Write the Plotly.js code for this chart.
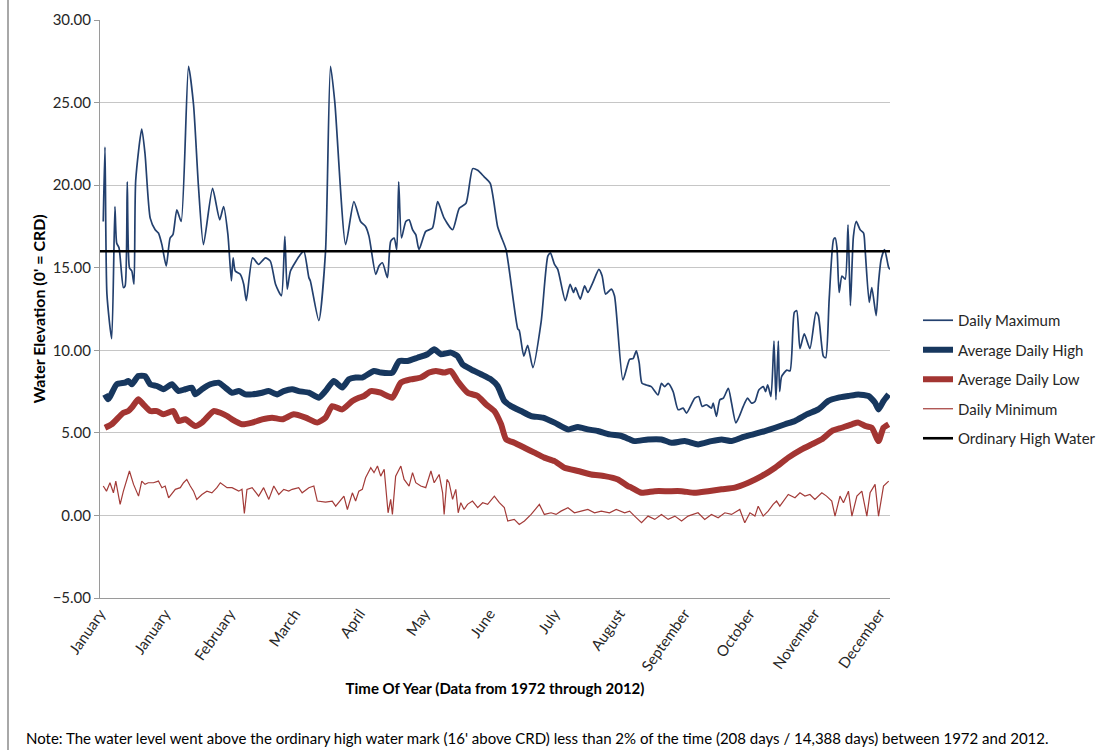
<!DOCTYPE html>
<html>
<head>
<meta charset="utf-8">
<script src="https://cdn.plot.ly/plotly-3.0.1.min.js"></script>
<style>
  html, body { margin: 0; padding: 0; background: #fff; }
  #chart { width: 1108px; height: 750px; }
</style>
</head>
<body>
<div id="chart"></div>
<script>
// ---- Data (day of year, water elevation in feet) ----
const tickDays = [0, 30, 60, 90, 120, 150, 180, 210, 240, 270, 300, 330, 360];
const tickLabels = ["January", "January", "February", "March", "April", "May", "June",
                    "July", "August", "September", "October", "November", "December"];

const maxDays = [1.5, 2.3, 3.2, 5.4, 6.9, 7.7, 8.8, 10.8, 11.6, 12.6, 13.6, 14.7, 15.7, 16.5, 19.3, 20.8, 23.2, 25.5, 27, 28.6,
  30.6, 32.4, 33.7, 35.5, 37.5, 40.9, 43.2, 45.5, 47.8, 52, 55.3, 57.1, 59.1, 60.7, 61.5, 62.5, 64.8, 66.4, 67.6, 70.5,
  73.3, 76.4, 78.7, 81.1, 83.8, 85.4, 86.5, 88, 92.6, 94.2, 96.5, 97.2, 101.1, 104.2, 106.5, 108.5, 113.5, 117.3, 120.4, 122.7,
  124.3, 127.4, 128.9, 130.5, 132.8, 134.3, 135.9, 137.1, 138, 139.3, 141.3, 142.8, 144.4, 145.9, 147.4, 150.5, 153.6, 156, 159, 162.9,
  166, 169.1, 172.2, 174.5, 177.5, 180.3, 183.7, 185.3, 187.6, 193, 193.7, 195.8, 197.6, 200, 203.8, 206.9, 208.1, 210, 211.5, 215,
  217.2, 218.8, 219.7, 221.9, 223.9, 225.4, 227.7, 230.5, 232, 233.6, 236.2, 237.7, 241.6, 244.7, 246.3, 247.8, 249.1, 250.4, 252.4, 254.7,
  257.8, 259.4, 260.9, 262.5, 264.8, 267.1, 269.4, 271, 274.8, 276.6, 278.2, 280.2, 282.5, 283.3, 284.8, 286.4, 288, 290.3, 291.8, 293.8,
  295.7, 297.2, 299.2, 301, 302.6, 304.4, 306.5, 307.5, 308.5, 310, 311.4, 312.3, 313.4, 314, 314.9, 317.3, 318.8, 320.8, 321.9, 323.4,
  325.4, 328, 330.8, 331.9, 334.2, 335.3, 336.9, 338.9, 339.7, 340.5, 341.5, 342.8, 344.3, 345.6, 346.7, 348.1, 349.4, 351.2, 352.8, 353.5,
  355.4, 356.6, 358.6, 359.7, 360.9, 362.5, 364.4, 365];
const maxVals = [17.8, 22.3, 13.4, 10.7, 18.7, 16.5, 16.2, 13.8, 13.9, 20.2, 15.0, 14.8, 14.0, 20.3, 23.4, 21.9, 18.0, 17.3, 17.1, 16.4,
  15.1, 16.8, 17.0, 18.5, 17.8, 27.2, 24.9, 19.9, 16.4, 19.8, 17.9, 18.7, 17.0, 14.2, 15.6, 14.8, 14.6, 14.0, 13.0, 15.6,
  15.2, 15.6, 15.4, 14.0, 13.3, 16.9, 13.7, 14.8, 15.8, 16.0, 14.4, 14.2, 11.8, 16.0, 27.2, 25.0, 16.4, 19.0, 17.8, 17.5,
  16.9, 14.6, 15.1, 15.3, 14.4, 16.6, 16.8, 16.1, 20.2, 16.8, 17.8, 17.9, 17.3, 17.0, 16.1, 17.2, 17.4, 19.0, 18.0, 17.3,
  18.6, 18.9, 21.0, 20.9, 20.5, 20.1, 17.5, 16.9, 16.1, 11.3, 11.2, 9.65, 10.3, 8.95, 11.7, 15.7, 15.9, 15.2, 14.9, 13.0,
  14.0, 13.5, 13.8, 13.1, 13.9, 13.5, 14.1, 14.9, 14.5, 13.4, 13.7, 13.3, 8.2, 9.45, 9.5, 9.96, 9.25, 8.0, 7.9, 7.8,
  7.3, 8.0, 7.8, 8.0, 7.5, 6.4, 6.5, 6.2, 7.1, 7.2, 6.6, 6.7, 6.5, 6.8, 6.0, 7.0, 7.1, 7.7, 6.8, 5.6,
  6.1, 6.6, 7.1, 6.8, 6.9, 7.6, 7.8, 7.5, 7.9, 7.2, 10.56, 7.0, 10.56, 7.5, 8.4, 8.8, 8.75, 12.3, 12.4, 10.1,
  11.0, 10.1, 12.3, 12.1, 9.65, 9.55, 13.1, 16.7, 16.8, 16.2, 13.5, 14.5, 14.3, 17.6, 12.7, 16.9, 17.8, 17.3, 17.1, 16.1,
  12.9, 13.8, 12.1, 14.1, 15.5, 16.1, 15.0, 14.9];

const avgHighDays = [2.3, 3.8, 7.7, 11.6, 13.1, 14.7, 17.7, 20.8, 23.2, 26.3, 29.3, 33.2, 36.3, 39.4, 42.5, 44, 47.1, 51, 54.8, 57.9,
  61, 64.1, 67.2, 70.3, 74.9, 77.9, 81.8, 84.9, 88.8, 91.8, 96.5, 101.1, 104.2, 108, 111.9, 115, 118.1, 121.2, 126.6, 129.7,
  135.1, 138.2, 142.1, 146.7, 151.3, 154.4, 157.5, 162.1, 165.2, 167.5, 171.4, 176, 180.6, 183.7, 186.8, 189.9, 194.5, 199.2, 204.6, 210,
  216.2, 220.8, 225.4, 230, 235.4, 240.9, 244.7, 247, 253.2, 259.4, 264, 270.2, 276.3, 282.5, 287.2, 291.8, 296.4, 301.8, 307.2, 311.9,
  316.5, 321.1, 326.5, 331.9, 336.5, 341.2, 345.8, 350.4, 355.1, 358.1, 359.7, 362, 364.4];
const avgHighVals = [7.33, 7.03, 7.94, 8.04, 8.14, 7.94, 8.44, 8.44, 7.94, 7.84, 7.64, 7.94, 7.53, 7.64, 7.74, 7.33, 7.64, 7.94, 8.04, 7.74,
  7.43, 7.53, 7.33, 7.33, 7.43, 7.53, 7.33, 7.53, 7.64, 7.53, 7.43, 7.13, 7.53, 8.14, 7.74, 8.24, 8.35, 8.35, 8.75, 8.65,
  8.65, 9.35, 9.35, 9.55, 9.76, 10.06, 9.76, 9.86, 9.65, 9.15, 8.85, 8.55, 8.24, 7.84, 6.93, 6.62, 6.32, 6.02, 5.92, 5.62,
  5.21, 5.36, 5.21, 5.11, 4.91, 4.81, 4.61, 4.50, 4.60, 4.60, 4.40, 4.50, 4.30, 4.50, 4.60, 4.50, 4.71, 4.91, 5.11, 5.31,
  5.52, 5.72, 6.12, 6.42, 6.93, 7.13, 7.23, 7.33, 7.23, 6.83, 6.42, 6.93, 7.33];

const avgLowDays = [2.3, 5.4, 10.8, 13.1, 14.7, 17.7, 20, 23.2, 26.3, 29.3, 33.9, 36.3, 39.4, 44, 47.1, 52.5, 55.6, 58.7, 61, 65.6,
  70.3, 74.9, 79.5, 84.2, 89.5, 95, 100.4, 104.2, 107.3, 111.9, 116.6, 119.6, 122, 125.1, 129.7, 135.1, 139, 143.6, 148.2, 152.1,
  155.2, 159, 162.1, 165.2, 169.9, 174.5, 178.3, 182.2, 185.3, 187.6, 191.4, 196.1, 200.7, 205.3, 210, 214.6, 220.8, 227, 233.1, 239.3,
  243.9, 245.6, 250.2, 256.3, 262.5, 268.7, 274.8, 281, 287.2, 293.3, 299.5, 305.7, 311.9, 318, 324.2, 328.8, 333.5, 338.1, 342.7, 347.4,
  350.4, 353.5, 356.6, 359.7, 362, 364.4];
const avgLowVals = [5.31, 5.52, 6.22, 6.32, 6.53, 7.03, 6.73, 6.32, 6.32, 6.12, 6.32, 5.72, 5.82, 5.41, 5.62, 6.32, 6.22, 6.02, 5.82, 5.52,
  5.62, 5.82, 5.92, 5.82, 6.12, 5.92, 5.62, 5.92, 6.62, 6.42, 6.93, 7.13, 7.23, 7.53, 7.43, 7.13, 8.04, 8.24, 8.35, 8.65,
  8.75, 8.65, 8.75, 8.14, 7.43, 7.23, 6.73, 6.32, 5.52, 4.61, 4.40, 4.10, 3.80, 3.50, 3.29, 2.89, 2.69, 2.48, 2.38, 2.18,
  1.78, 1.68, 1.37, 1.47, 1.47, 1.47, 1.37, 1.47, 1.58, 1.68, 1.98, 2.38, 2.89, 3.50, 4.00, 4.30, 4.61, 5.11, 5.31, 5.52,
  5.62, 5.42, 5.31, 4.50, 5.31, 5.52];

const minDays = [1.5, 3, 4.6, 6.2, 7.3, 9.3, 10.8, 12.4, 13.6, 15.5, 17.8, 19.3, 20.8, 22.3, 24.7, 27, 28.6, 30.1, 31.7, 34.8,
  37.1, 38.6, 40.1, 41.7, 43.2, 44.7, 47.1, 49.4, 51.7, 54, 55.6, 58.7, 61, 64.1, 65.6, 66.7, 67.9, 70.3, 73.3, 75.6,
  78, 80.3, 82.6, 84.9, 87.2, 88.8, 91.8, 93.4, 96.5, 98.8, 100.4, 104.2, 107.3, 108.9, 111.2, 112.7, 114.3, 116.6, 118.1, 119.6,
  121.2, 122.7, 125.1, 126.6, 128.2, 129.7, 131.3, 133.1, 134.3, 135.1, 136.6, 139, 140.5, 142.8, 144.4, 145.9, 148.2, 150.5, 152.9, 154.4,
  156.7, 158.3, 159, 160.3, 161.3, 162.9, 164.4, 165.5, 166.7, 168.2, 169.8, 172.1, 174.5, 176.8, 179.1, 182.2, 184.5, 186.8, 188.4, 191.4,
  193.7, 196.1, 199.2, 203, 205.3, 208.4, 210.7, 213, 216.2, 219.2, 222.3, 225.4, 228.5, 231.6, 235.4, 238.5, 242.4, 244.7, 247, 250.2,
  253.2, 256.3, 259.4, 262.5, 265.6, 268.7, 271.7, 276.3, 279.4, 282.5, 285.6, 288.7, 291.8, 294.1, 295.6, 297.9, 300.3, 302.6, 304.1, 306.4,
  308.7, 311, 312.6, 314.1, 316.5, 318, 321.1, 323.4, 325.7, 328, 330.3, 333.5, 335.7, 338.1, 339.6, 341.9, 343.5, 345.8, 347.4, 349.7,
  352, 354.3, 355.8, 358.1, 359.7, 362, 364.4];
const minVals = [1.78, 1.47, 1.98, 1.37, 2.08, 0.67, 1.47, 2.18, 2.69, 1.88, 1.17, 2.08, 1.88, 1.98, 1.98, 2.08, 1.68, 1.78, 1.07, 1.58,
  1.68, 1.98, 2.18, 1.78, 1.47, 0.97, 1.27, 1.47, 1.37, 1.68, 1.98, 1.68, 1.68, 1.47, 1.58, 0.12, 1.58, 1.68, 1.17, 1.68,
  0.97, 1.78, 1.27, 1.58, 1.47, 1.58, 1.68, 1.37, 1.68, 1.78, 0.87, 0.81, 0.87, 0.56, 0.97, 1.17, 0.36, 1.37, 0.87, 1.47,
  1.58, 2.28, 2.89, 2.59, 2.99, 2.38, 2.79, 0.16, 0.97, 0.06, 2.38, 2.99, 2.18, 1.78, 2.59, 1.98, 1.78, 1.68, 2.69, 1.98,
  2.48, 1.37, 0.06, 2.18, 1.98, 0.97, 1.58, 0.16, 0.77, 0.36, 0.67, 0.87, 0.47, 0.77, 0.67, 1.17, 0.77, 0.47, -0.34, -0.24,
  -0.55, -0.34, 0.06, 0.67, 0.06, 0.16, 0.06, 0.26, 0.47, 0.16, 0.26, 0.36, 0.16, 0.26, 0.16, 0.36, 0.16, 0.26, -0.04, -0.44,
  -0.04, -0.24, 0.06, -0.24, -0.04, -0.34, -0.04, 0.16, -0.24, 0.06, -0.14, 0.16, 0.06, 0.26, 0.36, -0.44, 0.16, -0.04, 0.56, -0.04,
  0.26, 0.67, 0.87, 0.56, 0.97, 1.27, 1.07, 1.37, 1.17, 1.27, 0.97, 1.37, 1.17, 0.87, -0.04, 1.17, 0.77, 1.47, -0.04, 1.17,
  1.47, -0.04, 1.37, 1.88, -0.04, 1.78, 2.08];

const ohwDays = [0, 365];
const ohwVals = [16, 16];

const seriesNames = ["Daily Maximum", "Average Daily High", "Average Daily Low", "Daily Minimum", "Ordinary High Water"];

// ---- Chart ----
const FONT = "Lato, 'Open Sans', sans-serif";
const traces = [
  { x: maxDays, y: maxVals, name: seriesNames[0], mode: "lines", legendgroup: "a",
    line: { color: "#23406E", width: 1.7, shape: "spline", smoothing: 0.6 } },
  { x: avgHighDays, y: avgHighVals, name: seriesNames[1], mode: "lines", legendgroup: "b",
    line: { color: "#17375E", width: 6, shape: "spline", smoothing: 0.5 } },
  { x: avgLowDays, y: avgLowVals, name: seriesNames[2], mode: "lines", legendgroup: "c",
    line: { color: "#A33532", width: 6, shape: "spline", smoothing: 0.5 } },
  { x: minDays, y: minVals, name: seriesNames[3], mode: "lines", legendgroup: "d",
    line: { color: "#A33B38", width: 1.2 } },
  { x: ohwDays, y: ohwVals, name: seriesNames[4], mode: "lines", legendgroup: "e",
    line: { color: "#000000", width: 2.6 } }
];

const plotL = 100, plotR = 890, plotT = 20, plotB = 598;
const pw = plotR - plotL, ph = plotB - plotT;
const px = v => (v - plotL) / pw;
const py = v => (plotB - v) / ph;

const layout = {
  width: 1108, height: 750,
  paper_bgcolor: "#ffffff", plot_bgcolor: "#ffffff",
  margin: { l: plotL, r: 1108 - plotR, t: plotT, b: 750 - plotB, pad: 0, autoexpand: false },
  font: { family: FONT, size: 15, color: "#404040" },
  showlegend: true,
  legend: {
    xref: "container", yref: "container",
    x: 918 / 1108, y: 1 - 304 / 750, xanchor: "left", yanchor: "top",
    font: { family: FONT, size: 15, color: "#262626" },
    tracegroupgap: 7, bgcolor: "rgba(0,0,0,0)"
  },
  xaxis: {
    range: [0, 365], tickmode: "array", tickvals: tickDays, ticktext: tickLabels,
    tickangle: -55, showgrid: false, zeroline: false, showline: true,
    linecolor: "#9A9A9A", linewidth: 1, ticks: "", automargin: false,
    tickfont: { family: FONT, size: 15, color: "#262626" },
    title: { text: "<b>Time Of Year (Data from 1972 through 2012)</b>",
             font: { family: FONT, size: 15, color: "#000000" }, standoff: 10 }
  },
  yaxis: {
    range: [-5, 30], dtick: 5, tick0: 0, tickformat: ".2f",
    showgrid: true, gridcolor: "#C6C6C6", gridwidth: 1, zeroline: false,
    showline: true, linecolor: "#9A9A9A", linewidth: 1, automargin: false,
    ticks: "outside", ticklen: 5, tickcolor: "#9A9A9A",
    tickfont: { family: FONT, size: 15, color: "#262626" },
    title: { text: "<b>Water Elevation (0' = CRD)</b>",
             font: { family: FONT, size: 16, color: "#000000" }, standoff: 3 }
  },
  shapes: [
    { type: "line", xref: "paper", yref: "paper", x0: px(8), x1: px(8), y0: py(750), y1: py(0),
      line: { color: "#A8A8A8", width: 2 } }
  ],
  annotations: [
    { xref: "paper", yref: "paper", x: px(24), y: py(738), xanchor: "left", yanchor: "middle",
      showarrow: false, align: "left",
      text: "Note: The water level went above the ordinary high water mark (16' above CRD) less than 2% of the time (208 days / 14,388 days) between 1972 and 2012.",
      font: { family: FONT, size: 15, color: "#000000" } }
  ]
};

Plotly.newPlot("chart", traces, layout, { displayModeBar: false, staticPlot: true });
</script>
</body>
</html>
